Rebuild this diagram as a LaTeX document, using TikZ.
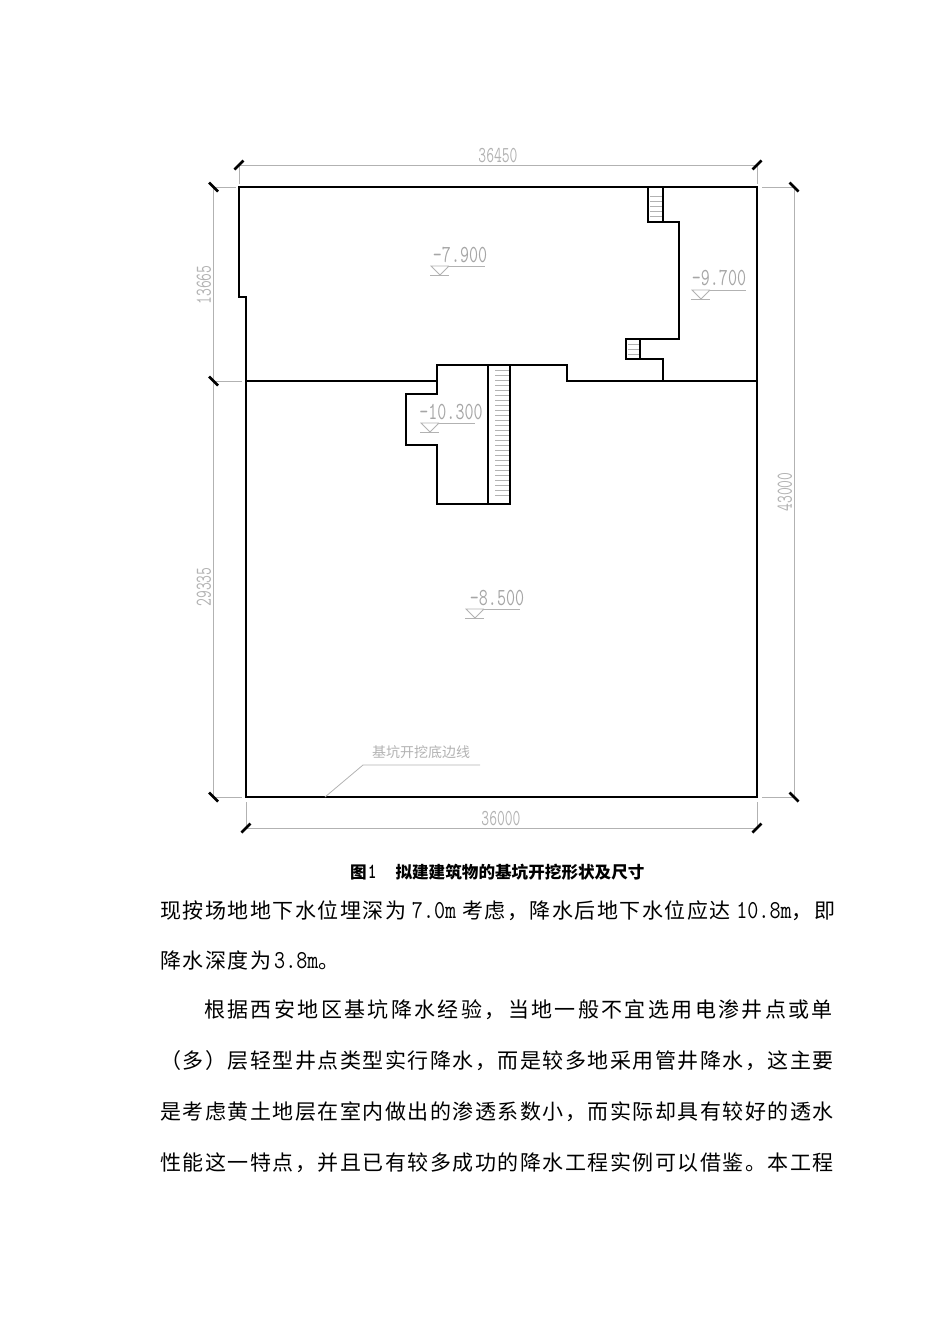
\documentclass[tikz,border=0pt]{standalone}
\usepackage{fontspec}
\newfontfamily\cjk{Noto Sans CJK SC}
\newfontfamily\cjkbody[LetterSpace=7.14]{Noto Sans CJK SC} % 22.5 pitch
\newfontfamily\cjkwide[LetterSpace=11.3]{Noto Sans CJK SC} % the indented line
\tikzset{
pit/.style={line width=1.6pt, black}, % the excavation outline
thin gray/.style={line width=0.8pt, gray!60},
ramp/.style={line width=0.6pt, gray!60}, % stair treads
tick/.style={line width=2.8pt, black}, % dimension end marks
dimtext/.style={text=gray!60, inner sep=0pt, font=\ttfamily\fontsize{15.2}{16}\selectfont},
leveltext/.style={text=gray!70, inner sep=0pt, font=\ttfamily\fontsize{17.5}{18}\selectfont},
bodyline/.style={anchor=west, inner sep=0pt, font=\cjkbody\fontsize{21}{22}\selectfont},
}
\newcommand{\tall}[1]{\scalebox{1}[1.5]{#1}}
\newcommand{\lat}[1]{{\ttfamily\fontsize{21.5}{22}\selectfont\scalebox{1}[1.2]{#1}}}

\begin{document}
\begin{tikzpicture}[x=1pt, y=-1pt]
    \useasboundingbox (0,0) rectangle (950,1344);

    % pit outline
    \draw[pit] (246,297) -- (239,297) -- (239,187) -- (757,187) -- (757,797) -- (246,797) -- cycle;
    \draw[pit] (246,381) -- (437,381) -- (437,365) -- (567,365) -- (567,381) -- (757,381);
    \draw[pit] (437,381) -- (437,394) -- (406,394) -- (406,445) -- (437,445) -- (437,504) -- (510,504) -- (510,365);
    \draw[pit] (488,365) -- (488,504);
    \draw[pit] (648,187) -- (648,222) -- (679,222) -- (679,339) -- (626,339) -- (626,359) -- (663,359) -- (663,381);
    \draw[pit] (663,187) -- (663,222);
    \draw[pit] (640,339) -- (640,359);

    % stair treads
    \foreach \i in {0,...,25}
        \draw[ramp] (495,370+5*\i) -- (509,370+5*\i);
    \foreach \y in {196,201,206,211,216}
        \draw[ramp] (650,\y) -- (662,\y);
    \foreach \y in {344,349,354}
        \draw[ramp] (628,\y) -- (639,\y);

    % dimension lines
    \draw[thin gray] (239,165) -- (757,165);
    \draw[thin gray] (246,828) -- (757,828);
    \draw[thin gray] (213.5,187) -- (213.5,797);
    \draw[thin gray] (794,187) -- (794,797);
    \draw[thin gray] (239,165) -- (239,184);
    \draw[thin gray] (757,165) -- (757,184);
    \draw[thin gray] (246,802) -- (246,828);
    \draw[thin gray] (757,802) -- (757,828);
    \draw[thin gray] (213.5,187) -- (236,187);
    \draw[thin gray] (213.5,381) -- (242,381);
    \draw[thin gray] (213.5,797) -- (242,797);
    \draw[thin gray] (762,187) -- (794,187);
    \draw[thin gray] (762,797) -- (794,797);

    % end marks
    \foreach \x/\y in {239/165,757/165,246/828,757/828}
        \draw[tick] (\x-4.5,\y+4.5) -- (\x+4.5,\y-4.5);
    \foreach \x/\y in {213.5/187,213.5/381,213.5/797,794/187,794/797}
        \draw[tick] (\x-4.5,\y-4.5) -- (\x+4.5,\y+4.5);

    \node[dimtext] (dimtop) at (498,156) {\tall{36450}};
    \node[dimtext] (dimbottom) at (501,819) {\tall{36000}};
    \node[dimtext, rotate=90] (dimupper) at (204,285) {\tall{13665}};
    \node[dimtext, rotate=90] (dimlower) at (204,587) {\tall{29335}};
    \node[dimtext, rotate=90] (dimright) at (785,492) {\tall{43000}};

    % level marks
    \foreach \x/\y/\tx/\ty/\lev/\nm in {431/266/460/255/-7.900/levA,692/290/719/278/-9.700/levB,421/423/451/412/-10.300/levC,466/609/497/598/-8.500/levD} {
        \draw[thin gray] (\x+18,\y) -- (\x,\y) -- (\x+9,\y+9) -- (\x+18,\y);
        \draw[thin gray] (\x+18,\y) -- (\x+54,\y);
        \draw[thin gray] (\x-1,\y+9) -- (\x+18,\y+9);
        \node[leveltext] (\nm) at (\tx,\ty) {\scalebox{1}[1.4]{\lev}};
    }

    % note with leader
    \coordinate (leadA) at (325,797);
    \coordinate (leadB) at (363,765);
    \coordinate (leadC) at (480,765);
    \draw[thin gray] (leadA) -- (leadB) -- (leadC);
    \node[inner sep=0pt, text=gray!60, font=\cjk\fontsize{14}{15}\selectfont] (note) at (421,752) {基坑开挖底边线};

    % caption and text below
    \node[inner sep=0pt, anchor=west, font=\cjk\bfseries\fontsize{16.6}{17}\selectfont] (caption) at (350,872) {图\hspace{1pt}\scalebox{1}[1.3]{\ttfamily 1}\hspace{19pt}拟建建筑物的基坑开挖形状及尺寸};
    \node[bodyline] (lineA) at (160,911) {\makebox[675pt][s]{现按场地地下水位埋深为\hfil\lat{7.0m}\hfil 考虑，降水后地下水位应达\hfil\lat{10.8m}，即}};
    \node[bodyline] (lineB) at (160,960) {降水深度为\hspace{3pt}\lat{3.8m}。};
    \node[bodyline, font=\cjkwide\fontsize{21}{22}\selectfont] (lineC) at (204,1010) {根据西安地区基坑降水经验，当地一般不宜选用电渗井点或单};
    \node[bodyline] (lineD) at (160,1061) {（多）层轻型井点类型实行降水，而是较多地采用管井降水，这主要};
    \node[bodyline] (lineE) at (160,1112) {是考虑黄土地层在室内做出的渗透系数小，而实际却具有较好的透水};
    \node[bodyline] (lineF) at (160,1163) {性能这一特点，并且已有较多成功的降水工程实例可以借鉴。本工程};
\end{tikzpicture}
\end{document}
